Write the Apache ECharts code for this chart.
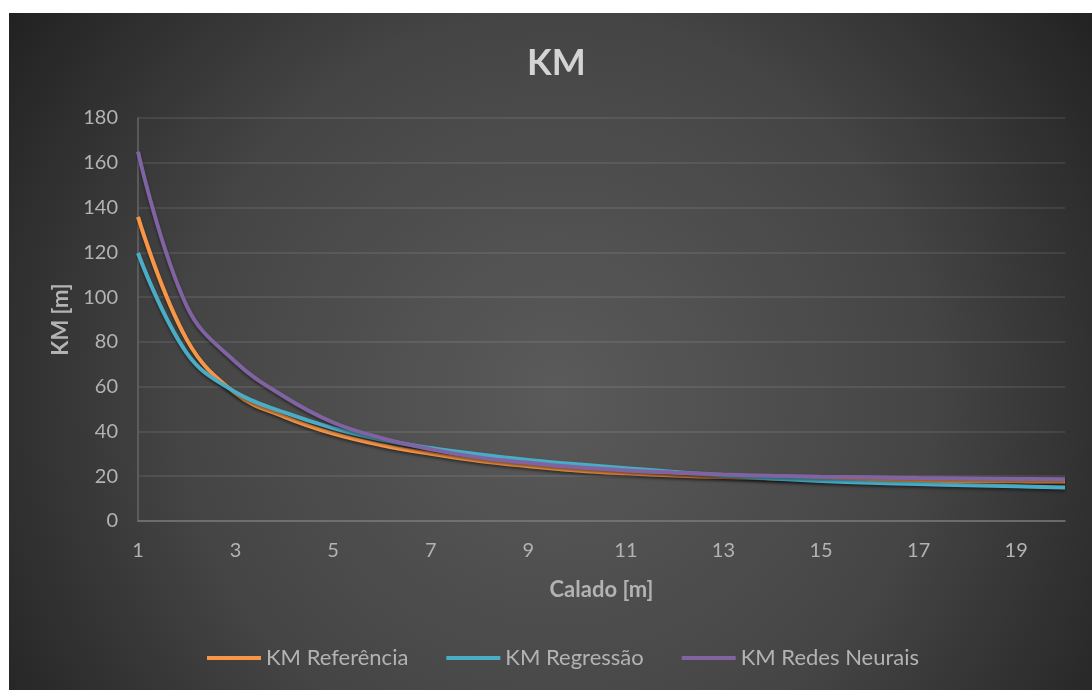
<!DOCTYPE html>
<html>
<head>
<meta charset="utf-8">
<script src="https://cdn.jsdelivr.net/npm/echarts@6/dist/echarts.min.js"></script>
<style>
  html, body { margin: 0; padding: 0; background: #ffffff; width: 1092px; height: 690px; overflow: hidden; }
  #chart { position: absolute; left: 9px; top: 13px; width: 1083px; height: 677px; }
</style>
</head>
<body>
<div id="chart"></div>
<script>
// Calado (draft) categories, in metres
const calado = ['1','2','3','4','5','6','7','8','9','10','11','12','13','14','15','16','17','18','19','20'];

// KM values [m] for each method
const kmReferencia = [135.8, 81, 57, 46.5, 39, 33.8, 30, 26.8, 24.5, 22.6, 21.3, 20.3, 19.6, 19.0, 18.5, 18.2, 18.0, 17.8, 17.7, 17.6];
const kmRegressao  = [119.7, 75, 57.5, 48.5, 41.5, 36.3, 32.6, 29.7, 27.3, 25.3, 23.6, 21.9, 20.3, 19.0, 17.9, 17.1, 16.5, 16.0, 15.5, 15.0];
const kmRedes      = [165, 96, 71, 55.5, 44, 37, 32, 28.3, 26, 24, 22.6, 21.6, 20.8, 20.2, 19.8, 19.5, 19.2, 19.0, 18.8, 18.7];

const seriesNames = ['KM Referência', 'KM Regressão', 'KM Redes Neurais'];
const seriesColors = ['#F79646', '#4BACC6', '#8064A2'];

const font = 'Lato, "Open Sans", "Noto Sans", sans-serif';
const labelColor = '#b3b3b3';

const chart = echarts.init(document.getElementById('chart'), null, { renderer: 'canvas' });

function lineSeries(name, data, color) {
  return {
    name: name,
    type: 'line',
    data: data,
    smooth: 0.4,
    symbol: 'none',
    lineStyle: {
      width: 4,
      color: color,
      shadowColor: 'rgba(0,0,0,0.45)',
      shadowBlur: 3,
      shadowOffsetY: 2
    },
    itemStyle: { color: color },
    emphasis: { disabled: true }
  };
}

chart.setOption({
  animation: false,
  backgroundColor: {
    type: 'radial',
    x: 0.505, y: 0.56, r: 1.0,
    colorStops: [
      { offset: 0, color: '#5a5a5a' },
      { offset: 0.55, color: '#454545' },
      { offset: 1, color: '#202020' }
    ]
  },
  textStyle: { fontFamily: font },
  title: {
    text: 'KM',
    left: 513,
    top: 27,
    textStyle: { fontFamily: font, fontSize: 36, fontWeight: 'bold', color: '#d4d4d4' }
  },
  legend: {
    bottom: 16,
    left: 193,
    itemWidth: 54,
    itemHeight: 4,
    itemGap: 38,
    icon: 'rect',
    data: seriesNames,
    textStyle: { fontFamily: font, fontSize: 22, color: labelColor }
  },
  grid: { left: 129, right: 27, top: 105, bottom: 169, containLabel: false },
  xAxis: {
    type: 'category',
    data: calado,
    boundaryGap: false,
    name: 'Calado [m]',
    nameLocation: 'middle',
    nameGap: 58,
    nameTextStyle: { fontFamily: font, fontSize: 22, fontWeight: 'bold', color: labelColor },
    axisLine: { lineStyle: { color: '#777777', width: 1.5 } },
    axisTick: { show: false },
    axisLabel: { interval: 1, margin: 20, fontFamily: font, fontSize: 20, color: labelColor },
    splitLine: { show: false }
  },
  yAxis: {
    type: 'value',
    min: 0,
    max: 180,
    interval: 20,
    name: 'KM [m]',
    nameLocation: 'middle',
    nameGap: 66,
    nameRotate: 90,
    nameTextStyle: { fontFamily: font, fontSize: 22, fontWeight: 'bold', color: labelColor },
    axisLine: { show: true, lineStyle: { color: '#666666', width: 1.5 } },
    axisTick: { show: false },
    axisLabel: { margin: 20, fontFamily: font, fontSize: 20, color: labelColor },
    splitLine: { lineStyle: { color: 'rgba(255,255,255,0.11)', width: 1.5 } }
  },
  series: [
    lineSeries(seriesNames[0], kmReferencia, seriesColors[0]),
    lineSeries(seriesNames[1], kmRegressao, seriesColors[1]),
    lineSeries(seriesNames[2], kmRedes, seriesColors[2])
  ]
});
</script>
</body>
</html>
